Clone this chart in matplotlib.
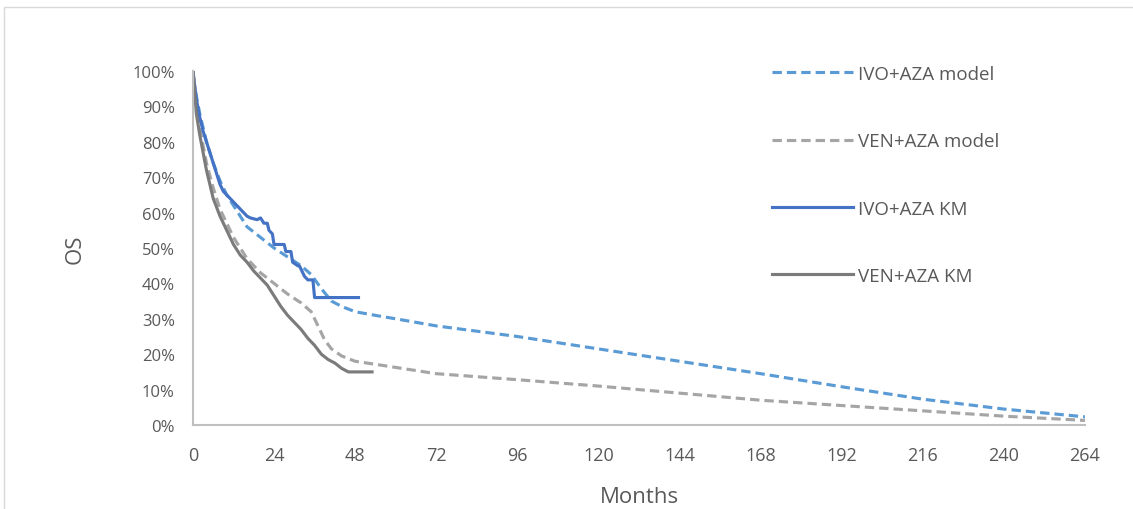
import matplotlib.pyplot as plt
from matplotlib.patches import Rectangle
from matplotlib.ticker import FuncFormatter

plt.rcParams['font.family'] = ['Open Sans', 'DejaVu Sans']

# 模型拟合曲线（月, OS%）
ivo_model_t = [0, 2, 4, 6, 8, 10, 12, 16, 20, 24, 28, 32, 35, 38, 41, 44, 48, 55, 60, 72,
               96, 120, 144, 168, 192, 216, 240, 264]
ivo_model_os = [98, 88, 80, 74, 69, 65, 62, 56, 53, 50, 47.5, 45, 42.5, 38.5, 35, 33.5, 32,
                30.8, 30, 28, 25, 21.5, 18, 14.5, 10.8, 7.3, 4.5, 2.3]

ven_model_t = [0, 2, 4, 6, 8, 10, 12, 16, 20, 24, 28, 32, 35, 37, 39, 41, 44, 48, 55, 72,
               96, 120, 144, 168, 192, 216, 240, 264]
ven_model_os = [100, 84, 74, 67, 61, 57, 53, 47, 43, 40, 37, 34.5, 32, 28, 24, 21.5, 19.5,
                18, 17, 14.5, 12.8, 11, 9, 7, 5.5, 4, 2.5, 1.3]

# KM 曲线（重复的时间点为阶梯）
ivo_km_t = [0, 1, 2, 3, 4, 5, 6, 7, 8, 9, 10, 12, 14, 15, 16, 17, 19, 20, 21, 22, 22.5,
            23.5, 24, 25, 27, 27.5, 29, 29.5, 31, 31.5, 33, 34, 35.5, 36, 49]
ivo_km_os = [100, 92, 87, 83, 80, 77, 74, 71, 68, 66, 65, 63, 61, 60, 59, 58.5, 58, 58.5,
             57, 57, 55, 54, 51, 51, 51, 49, 49, 46, 45, 45, 42, 41, 41, 36, 36]

ven_km_t = [0, 1, 2, 3, 4, 5, 6, 8, 10, 12, 14, 16, 18, 20, 22, 24, 26, 28, 30, 32, 34,
            36, 38, 40, 42, 44, 46, 53]
ven_km_os = [100, 88, 82, 77, 72, 68, 64, 59, 55, 51, 48, 46, 43.5, 41.5, 39.5, 36.5, 33.5,
             31, 29, 27, 24.5, 22.5, 20, 18.5, 17.5, 16, 15, 15]

x_ticks = list(range(0, 265, 24))
y_ticks = list(range(0, 101, 10))

fig = plt.figure(figsize=(11.33, 5.1), dpi=100)
ax = fig.add_axes([0.1703, 0.1647, 0.7873, 0.6941])

# 外框
fig.patches.append(Rectangle((4 / 1133, -0.1), 1.2, 1 - 8 / 510 + 0.1,
                             transform=fig.transFigure, fill=False,
                             edgecolor='#d9d9d9', linewidth=1))

ax.plot(ivo_model_t, ivo_model_os, color='#5b9bd5', lw=2.25, dashes=(3, 1.6),
        label='IVO+AZA model')
ax.plot(ven_model_t, ven_model_os, color='#a5a5a5', lw=2.25, dashes=(3, 1.6),
        label='VEN+AZA model')
ax.plot(ivo_km_t, ivo_km_os, color='#4472c4', lw=2.25, label='IVO+AZA KM')
ax.plot(ven_km_t, ven_km_os, color='#7b7b7b', lw=2.25, label='VEN+AZA KM')

ax.set_xlim(0, 264)
ax.set_ylim(0, 100)
ax.set_xticks(x_ticks)
ax.set_yticks(y_ticks)
ax.yaxis.set_major_formatter(FuncFormatter(lambda v, p: f'{v:.0f}%'))
ax.tick_params(length=0, colors='#595959')
ax.tick_params(axis='y', labelsize=12, pad=13)
ax.tick_params(axis='x', labelsize=13, pad=15)
for s in ['top', 'right']:
    ax.spines[s].set_visible(False)
for s in ['left', 'bottom']:
    ax.spines[s].set_color('#bfbfbf')
    ax.spines[s].set_linewidth(1.5)

ax.set_xlabel('Months', fontsize=16, color='#595959', labelpad=16)
ax.set_ylabel('OS', fontsize=16, color='#595959', labelpad=34)

ax.legend(loc='upper left', bbox_to_anchor=(772 / 1133, 1 - 66 / 510),
          bbox_transform=fig.transFigure, frameon=False, fontsize=13.5,
          borderpad=0, borderaxespad=0, labelspacing=2.63, handlelength=4.3,
          handletextpad=0.3, labelcolor='#595959')

plt.savefig('out.png')
